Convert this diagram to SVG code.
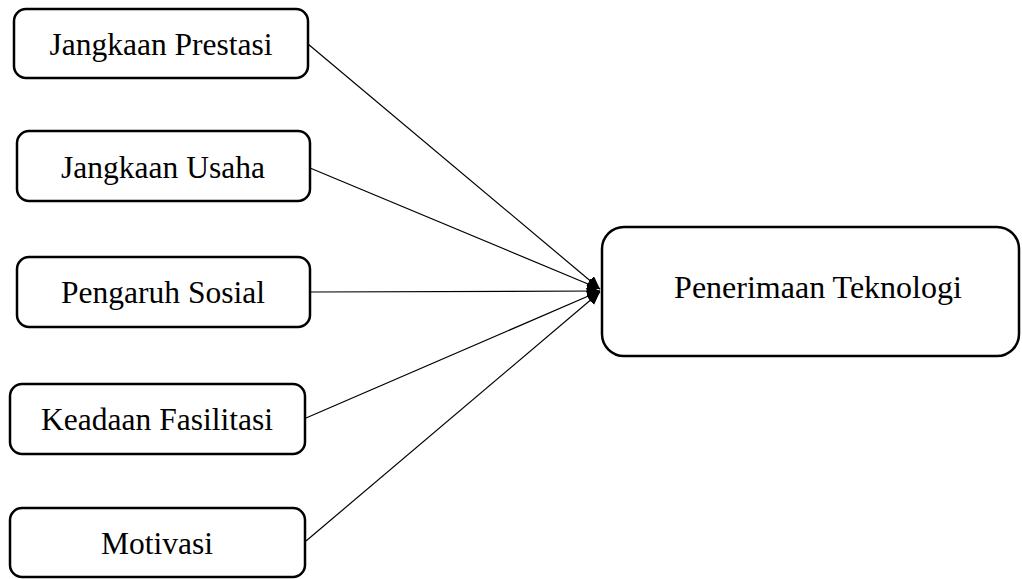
<svg xmlns="http://www.w3.org/2000/svg" width="1022" height="579" viewBox="0 0 1022 579">
<style>
.box{fill:#fff;stroke:#000;stroke-width:2.5}
.lbl{font-family:"Liberation Serif","Times New Roman",serif;font-size:31.5px;fill:#000;text-anchor:middle;dominant-baseline:central}
.big{font-size:32px}
.conn{stroke:#000;stroke-width:1.2;fill:none;marker-end:url(#ah)}
</style>
<defs>
<marker id="ah" markerUnits="userSpaceOnUse" markerWidth="14" markerHeight="12" refX="13" refY="6" orient="auto">
<path d="M0,0 L13,6 L0,12 Z" fill="#000"/>
</marker>
</defs>
<rect width="1022" height="579" fill="#fff"/>
<g id="connectors">
<line class="conn" x1="308" y1="44" x2="600" y2="289"/>
<line class="conn" x1="310" y1="168" x2="600" y2="289"/>
<line class="conn" x1="311" y1="292" x2="600" y2="291"/>
<line class="conn" x1="306" y1="418" x2="600" y2="291"/>
<line class="conn" x1="306" y1="541" x2="600" y2="292"/>
</g>
<g id="n1"><rect class="box" x="14" y="9" width="294" height="69" rx="12"/><text class="lbl" x="161" y="44">Jangkaan Prestasi</text></g>
<g id="n2"><rect class="box" x="17" y="131" width="293" height="70" rx="12"/><text class="lbl" x="163" y="167">Jangkaan Usaha</text></g>
<g id="n3"><rect class="box" x="17" y="257" width="293" height="70" rx="12"/><text class="lbl" x="163" y="292">Pengaruh Sosial</text></g>
<g id="n4"><rect class="box" x="10" y="384" width="295" height="70" rx="12"/><text class="lbl" x="157" y="419">Keadaan Fasilitasi</text></g>
<g id="n5"><rect class="box" x="10" y="508" width="295" height="69" rx="12"/><text class="lbl" x="157" y="543">Motivasi</text></g>
<g id="n6"><rect class="box" x="602" y="227" width="417" height="129" rx="22"/><text class="lbl big" x="818" y="287">Penerimaan Teknologi</text></g>
</svg>
